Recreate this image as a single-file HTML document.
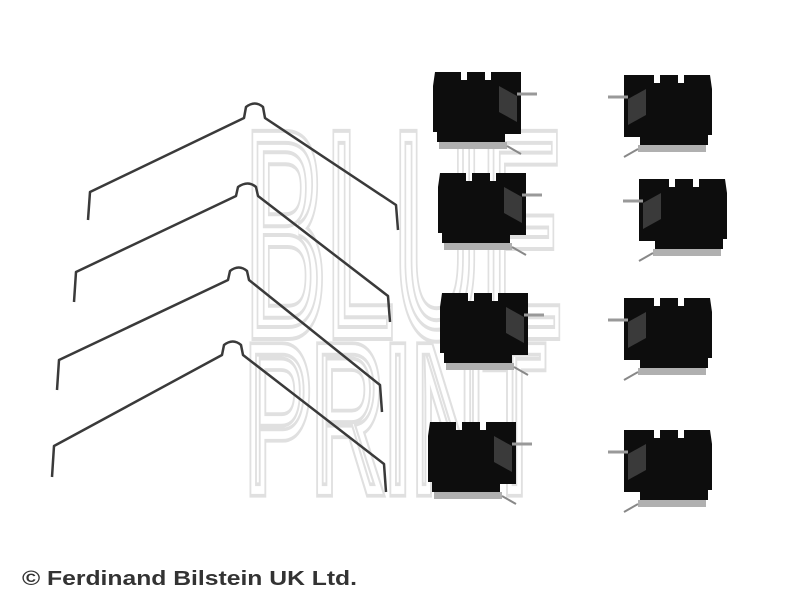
<!DOCTYPE html>
<html><head><style>
html,body{margin:0;padding:0;background:#fff;width:800px;height:608px;overflow:hidden}
svg{display:block}
.wm{font-family:"Liberation Sans Narrow","Liberation Sans",sans-serif;font-size:100px;fill:none}
</style></head><body>
<svg width="800" height="608" viewBox="0 0 800 608" xmlns="http://www.w3.org/2000/svg">
<defs>
<g id="clip">
  <path d="M2,0 H28 V8 H34 V0 H52 V8 H58 V0 H88 V62 H72 V70 H4 V60 H0 V14 Z" fill="#0d0d0d"/>
  <rect x="6" y="70" width="68" height="7" fill="#b0b0b0"/>
  <line x1="74" y1="74" x2="88" y2="82" stroke="#888" stroke-width="2"/>
  <path d="M66,14 L84,24 L84,50 L66,40 Z" fill="#3a3a3a"/>
  <line x1="84" y1="22" x2="104" y2="22" stroke="#999" stroke-width="3"/>
</g>
</defs>
<g class="wm">
  <text transform="translate(245,333) scale(1,2.85)" textLength="317" lengthAdjust="spacingAndGlyphs" stroke="#e0e0e0" stroke-width="12" vector-effect="non-scaling-stroke">BLUE</text>
  <text transform="translate(245,333) scale(1,2.85)" textLength="317" lengthAdjust="spacingAndGlyphs" stroke="#fff" stroke-width="6" vector-effect="non-scaling-stroke">BLUE</text>
  <text transform="translate(245,490) scale(1,2.05)" textLength="300" lengthAdjust="spacingAndGlyphs" stroke="#e0e0e0" stroke-width="12" vector-effect="non-scaling-stroke">PRINT</text>
  <text transform="translate(245,490) scale(1,2.05)" textLength="300" lengthAdjust="spacingAndGlyphs" stroke="#fff" stroke-width="6" vector-effect="non-scaling-stroke">PRINT</text>
</g>
<g fill="none" stroke="#3a3a3a" stroke-width="2.5" stroke-linejoin="round">
  <path d="M88,220 L90,192 L244,118 L246,107 Q255,100 263,107 L265,118 L396,205 L398,230"/>
  <path d="M74,302 L76,272 L236,196 L238,187 Q248,180 256,187 L258,196 L388,296 L390,322"/>
  <path d="M57,390 L59,360 L228,280 L230,271 Q239,264 247,271 L249,280 L380,385 L382,412"/>
  <path d="M52,477 L54,446 L222,355 L224,345 Q233,338 241,345 L243,355 L384,464 L386,492"/>
</g>
<use href="#clip" transform="translate(433,72)"/>
<use href="#clip" transform="translate(438,173)"/>
<use href="#clip" transform="translate(440,293)"/>
<use href="#clip" transform="translate(428,422)"/>
<use href="#clip" transform="translate(712,75) scale(-1,1)"/>
<use href="#clip" transform="translate(727,179) scale(-1,1)"/>
<use href="#clip" transform="translate(712,298) scale(-1,1)"/>
<use href="#clip" transform="translate(712,430) scale(-1,1)"/>
<text x="22" y="585" font-family="Liberation Sans,sans-serif" font-weight="bold" font-size="20" fill="#333" textLength="335" lengthAdjust="spacingAndGlyphs">© Ferdinand Bilstein UK Ltd.</text>
</svg>
</body></html>
